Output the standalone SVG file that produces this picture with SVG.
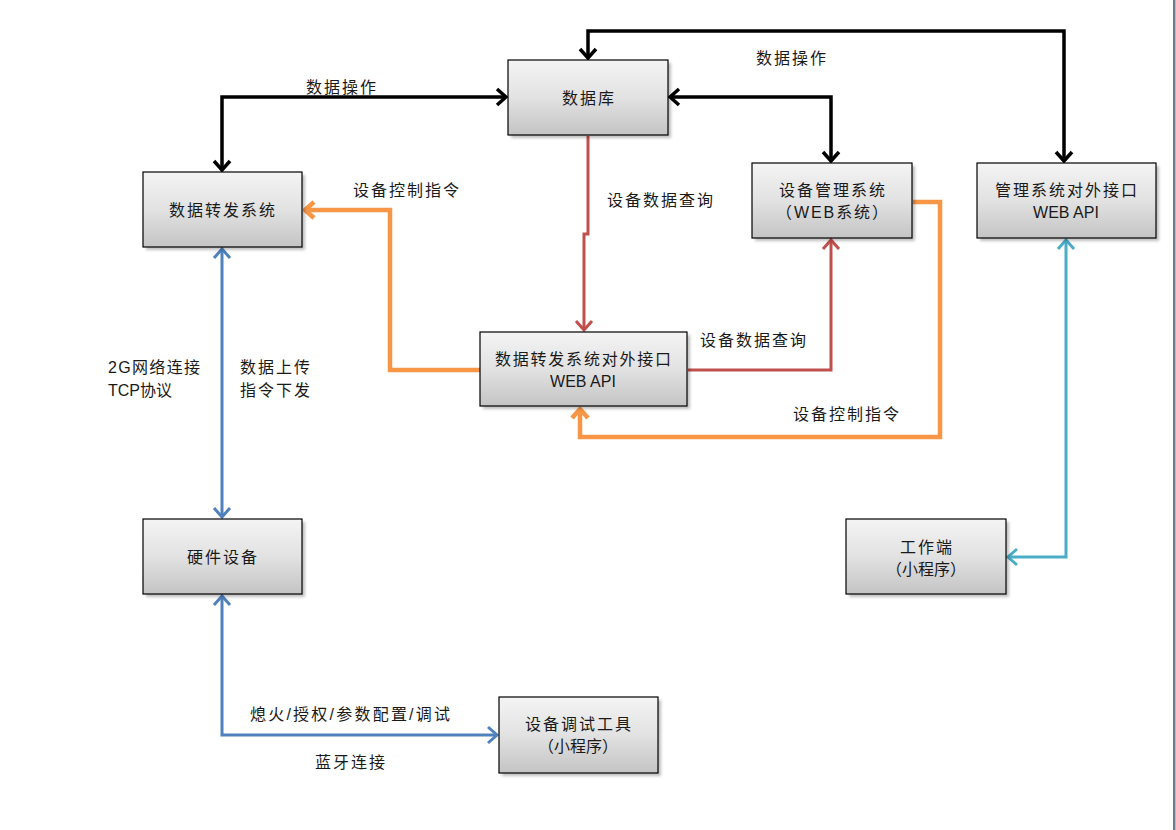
<svg xmlns="http://www.w3.org/2000/svg" width="1176" height="830" viewBox="0 0 1176 830">
<style>
text{font-family:"Liberation Sans","Noto Sans CJK SC",sans-serif;font-size:16px;fill:#1a1a1a}
.c{text-anchor:middle}
.box{fill:url(#g);stroke:#000;stroke-width:1.2}
.sh{fill:#000;opacity:0.25;filter:url(#blur)}
.ln{fill:none;stroke-linejoin:miter}
.k{stroke:#000;stroke-width:3.5}
.r{stroke:#c0504d;stroke-width:3}
.o{stroke:#f79646;stroke-width:4.5}
.b{stroke:#4f81bd;stroke-width:3}
.t{stroke:#4bacc6;stroke-width:3}
</style>
<defs>
<linearGradient id="g" x1="0" y1="0" x2="0" y2="1">
<stop offset="0" stop-color="#f4f4f4"/>
<stop offset="0.5" stop-color="#e2e2e2"/>
<stop offset="1" stop-color="#c4c4c4"/>
</linearGradient>
<filter id="blur" x="-10%" y="-10%" width="120%" height="130%"><feGaussianBlur stdDeviation="1.5"/></filter>
<marker id="mk" viewBox="-12 -10 14 20" markerWidth="14" markerHeight="20" refX="0" refY="0" orient="auto-start-reverse" markerUnits="userSpaceOnUse"><path d="M-9,-8 L0,0 L-9,8" fill="none" stroke="#000" stroke-width="3.5"/></marker>
<marker id="mr" viewBox="-12 -10 14 20" markerWidth="14" markerHeight="20" refX="0" refY="0" orient="auto-start-reverse" markerUnits="userSpaceOnUse"><path d="M-9,-8 L0,0 L-9,8" fill="none" stroke="#c0504d" stroke-width="3"/></marker>
<marker id="mo" viewBox="-12 -10 14 20" markerWidth="14" markerHeight="20" refX="0" refY="0" orient="auto-start-reverse" markerUnits="userSpaceOnUse"><path d="M-9,-8 L0,0 L-9,8" fill="none" stroke="#f79646" stroke-width="4.5"/></marker>
<marker id="mb" viewBox="-12 -10 14 20" markerWidth="14" markerHeight="20" refX="0" refY="0" orient="auto-start-reverse" markerUnits="userSpaceOnUse"><path d="M-9,-8 L0,0 L-9,8" fill="none" stroke="#4f81bd" stroke-width="3"/></marker>
<marker id="mt" viewBox="-12 -10 14 20" markerWidth="14" markerHeight="20" refX="0" refY="0" orient="auto-start-reverse" markerUnits="userSpaceOnUse"><path d="M-9,-8 L0,0 L-9,8" fill="none" stroke="#4bacc6" stroke-width="3"/></marker>
</defs>
<rect x="0" y="0" width="1176" height="830" fill="#fff"/>
<rect x="1173" y="0" width="2.5" height="830" fill="#6c7b90"/>

<g id="connectors">
<path class="ln k" d="M222,170 L222,97 L506,97" marker-start="url(#mk)" marker-end="url(#mk)"/>
<path class="ln k" d="M670,97 L831,97 L831,161" marker-start="url(#mk)" marker-end="url(#mk)"/>
<path class="ln k" d="M588,58 L588,31 L1064,31 L1064,161" marker-start="url(#mk)" marker-end="url(#mk)"/>
<path class="ln r" d="M588,136 L588,234 L584,234 L584,330" marker-end="url(#mr)"/>
<path class="ln r" d="M688,370 L831,370 L831,240" marker-end="url(#mr)"/>
<path class="ln o" d="M480,370 L390,370 L390,210 L305,210" marker-end="url(#mo)"/>
<path class="ln o" d="M913,202 L940,202 L940,437 L580,437 L580,409" marker-end="url(#mo)"/>
<path class="ln b" d="M222,249 L222,517" marker-start="url(#mb)" marker-end="url(#mb)"/>
<path class="ln b" d="M222,596 L222,735 L497,735" marker-start="url(#mb)" marker-end="url(#mb)"/>
<path class="ln t" d="M1066,240 L1066,557 L1008,557" marker-start="url(#mt)" marker-end="url(#mt)"/>
</g>

<g id="labels">
<text x="341" y="93" class="c" textLength="70">数据操作</text>
<text x="791" y="64" class="c" textLength="70">数据操作</text>
<text x="660" y="206" class="c" textLength="106">设备数据查询</text>
<text x="753" y="346" class="c" textLength="106">设备数据查询</text>
<text x="406" y="196" class="c" textLength="106">设备控制指令</text>
<text x="846" y="420" class="c" textLength="106">设备控制指令</text>
<text x="108" y="373" textLength="92">2G网络连接</text>
<text x="108" y="396" textLength="64">TCP协议</text>
<text x="240" y="373" textLength="70">数据上传</text>
<text x="240" y="396" textLength="70">指令下发</text>
<text x="350" y="720" class="c" textLength="200">熄火/授权/参数配置/调试</text>
<text x="350" y="768" class="c" textLength="70">蓝牙连接</text>
</g>

<g id="n-db">
<rect class="sh" x="511" y="63" width="160" height="75"/>
<rect class="box" x="508" y="60" width="160" height="75"/>
<text x="588" y="104" class="c" textLength="52">数据库</text>
</g>
<g id="n-fwd">
<rect class="sh" x="146" y="175" width="159" height="75"/>
<rect class="box" x="143" y="172" width="159" height="75"/>
<text x="222" y="216" class="c" textLength="106">数据转发系统</text>
</g>
<g id="n-mgmt">
<rect class="sh" x="755" y="166" width="160" height="75"/>
<rect class="box" x="752" y="163" width="160" height="75"/>
<text x="832" y="196" class="c" textLength="106">设备管理系统</text>
<text x="832" y="218" class="c" textLength="112">（WEB系统）</text>
</g>
<g id="n-mgmtapi">
<rect class="sh" x="980" y="166" width="179" height="75"/>
<rect class="box" x="977" y="163" width="179" height="75"/>
<text x="1066" y="196" class="c" textLength="142">管理系统对外接口</text>
<text x="1066" y="218" class="c">WEB API</text>
</g>
<g id="n-fwdapi">
<rect class="sh" x="483" y="335" width="207" height="74"/>
<rect class="box" x="480" y="332" width="207" height="74"/>
<text x="583" y="365" class="c" textLength="176">数据转发系统对外接口</text>
<text x="583" y="387" class="c">WEB API</text>
</g>
<g id="n-hw">
<rect class="sh" x="146" y="522" width="159" height="75"/>
<rect class="box" x="143" y="519" width="159" height="75"/>
<text x="222" y="563" class="c" textLength="70">硬件设备</text>
</g>
<g id="n-work">
<rect class="sh" x="849" y="522" width="160" height="75"/>
<rect class="box" x="846" y="519" width="160" height="75"/>
<text x="926" y="553" class="c" textLength="52">工作端</text>
<text x="926" y="575" class="c" textLength="80">（小程序）</text>
</g>
<g id="n-debug">
<rect class="sh" x="502" y="700" width="159" height="76"/>
<rect class="box" x="499" y="697" width="159" height="76"/>
<text x="578" y="730" class="c" textLength="106">设备调试工具</text>
<text x="578" y="752" class="c" textLength="80">（小程序）</text>
</g>
</svg>
